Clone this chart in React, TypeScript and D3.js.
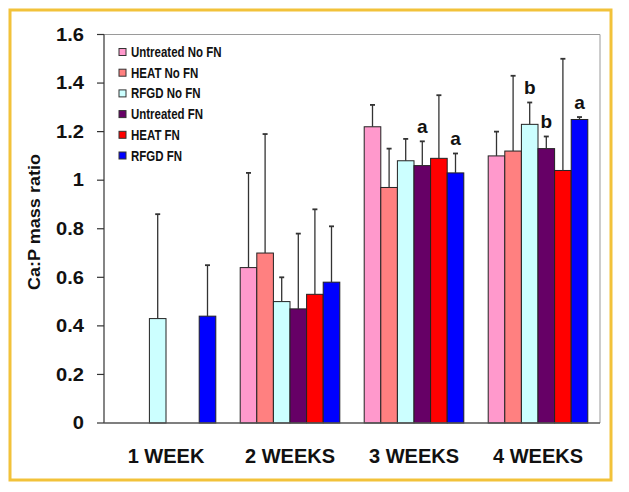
import React from "react";
import * as d3 from "d3";

const categories = ["1 WEEK", "2 WEEKS", "3 WEEKS", "4 WEEKS"];
const seriesNames = ["Untreated No FN", "HEAT No FN", "RFGD No FN", "Untreated FN", "HEAT FN", "RFGD FN"];
const seriesColors = ["#FF99CC", "#FF8080", "#CCFFFF", "#660066", "#FF0000", "#0000FF"];
// values per series, per category (null = no bar)
const untreatedNoFN = [null, 0.64, 1.22, 1.10];
const heatNoFN = [null, 0.70, 0.97, 1.12];
const rfgdNoFN = [0.43, 0.50, 1.08, 1.23];
const untreatedFN = [null, 0.47, 1.06, 1.13];
const heatFN = [null, 0.53, 1.09, 1.04];
const rfgdFN = [0.44, 0.58, 1.03, 1.25];
// upper end of error bars
const untreatedNoFNErr = [null, 1.03, 1.31, 1.20];
const heatNoFNErr = [null, 1.19, 1.13, 1.43];
const rfgdNoFNErr = [0.86, 0.60, 1.17, 1.32];
const untreatedFNErr = [null, 0.78, 1.16, 1.18];
const heatFNErr = [null, 0.88, 1.35, 1.50];
const rfgdFNErr = [0.65, 0.81, 1.11, 1.26];
const yTicks = [0, 0.2, 0.4, 0.6, 0.8, 1, 1.2, 1.4, 1.6];
// significance letters: [category index, series index, letter]
const annotations: [number, number, string][] = [
  [2, 3, "a"],
  [2, 5, "a"],
  [3, 2, "b"],
  [3, 3, "b"],
  [3, 5, "a"],
];

const values = [untreatedNoFN, heatNoFN, rfgdNoFN, untreatedFN, heatFN, rfgdFN];
const errs = [untreatedNoFNErr, heatNoFNErr, rfgdNoFNErr, untreatedFNErr, heatFNErr, rfgdFNErr];

export default function App() {
  const W = 629, H = 492;
  const left = 104, right = 600, top = 34.5, bottom = 423;
  const x0 = d3.scaleBand<string>().domain(categories).range([left, right]).paddingInner(0).paddingOuter(0);
  const groupW = x0.bandwidth();
  const barW = 16.6;
  const inner = barW * 6;
  const x1 = d3.scaleBand<number>().domain(d3.range(6)).range([0, inner]);
  const y = d3.scaleLinear().domain([0, 1.6]).range([bottom, top]);
  const font = "Arial, 'Liberation Sans', sans-serif";

  const barX = (ci: number, si: number) =>
    (x0(categories[ci]) as number) + (groupW - inner) / 2 + (x1(si) as number);

  return (
    <svg width={W} height={H} style={{ position: "absolute", left: 0, top: 0, background: "#fff" }}>
      <rect x={0} y={0} width={W} height={H} fill="#fff" />
      <rect x={10} y={10} width={601} height={470} fill="none" stroke="#F2C23A" strokeWidth={3} />
      {/* plot frame */}
      <line x1={left} x2={right} y1={top} y2={top} stroke="#9a9a9a" strokeWidth={1} />
      <line x1={right} x2={right} y1={top} y2={bottom} stroke="#9a9a9a" strokeWidth={1} />
      {/* bars */}
      {values.map((vals, si) =>
        vals.map((v, ci) =>
          v == null ? null : (
            <rect
              key={`b${si}-${ci}`}
              x={barX(ci, si)}
              y={y(v)}
              width={barW}
              height={bottom - y(v)}
              fill={seriesColors[si]}
              stroke="#222"
              strokeWidth={1}
            />
          )
        )
      )}
      {/* error bars */}
      {errs.map((vals, si) =>
        vals.map((e, ci) => {
          const v = values[si][ci];
          if (e == null || v == null) return null;
          const cx = barX(ci, si) + barW / 2;
          return (
            <g key={`e${si}-${ci}`} stroke="#333" strokeWidth={1.3}>
              <line x1={cx} x2={cx} y1={y(v)} y2={y(e)} />
              <line x1={cx - 2.5} x2={cx + 2.5} y1={y(e)} y2={y(e)} strokeWidth={1.8} />
            </g>
          );
        })
      )}
      {/* annotations */}
      {annotations.map(([ci, si, letter], i) => {
        const e = errs[si][ci] as number;
        return (
          <text
            key={`a${i}`}
            x={barX(ci, si) + barW / 2}
            y={y(e) - 8}
            textAnchor="middle"
            fontFamily={font}
            fontWeight="bold"
            fontSize={19}
            fill="#111"
          >
            {letter}
          </text>
        );
      })}
      {/* axes */}
      <line x1={left} x2={left} y1={top} y2={bottom} stroke="#333" strokeWidth={1.2} />
      <line x1={left} x2={right} y1={bottom} y2={bottom} stroke="#555" strokeWidth={1.4} />
      {yTicks.map((t) => (
        <g key={`t${t}`}>
          <line x1={left - 7} x2={left} y1={y(t)} y2={y(t)} stroke="#333" strokeWidth={1.2} />
          <g transform={`translate(84,${y(t)}) scale(1.15,1)`}>
            <text
              x={0}
              y={0}
              dy="0.36em"
              textAnchor="end"
              fontFamily={font}
              fontWeight="bold"
              fontSize={17.5}
              fill="#111"
            >
              {d3.format("")(t)}
            </text>
          </g>
        </g>
      ))}
      <text
        transform={`translate(40,222) rotate(-90)`}
        textAnchor="middle"
        fontFamily={font}
        fontWeight="bold"
        fontSize={16.5}
        fill="#111"
        textLength={136}
        lengthAdjust="spacingAndGlyphs"
      >
        Ca:P mass ratio
      </text>
      {categories.map((c) => (
        <text
          key={c}
          x={(x0(c) as number) + groupW / 2}
          y={463}
          textAnchor="middle"
          fontFamily={font}
          fontWeight="bold"
          fontSize={20}
          fill="#111"
        >
          {c}
        </text>
      ))}
      {/* legend */}
      {seriesNames.map((n, i) => {
        const cy = 52 + i * 20.7;
        return (
          <g key={n}>
            <rect x={119} y={cy - 3.5} width={7} height={7} fill={seriesColors[i]} stroke="#333" strokeWidth={1} />
            <g transform={`translate(131,${cy}) scale(0.82,1)`}>
              <text x={0} y={0} dy="0.36em" fontFamily={font} fontWeight="bold" fontSize={14} fill="#111">
                {n}
              </text>
            </g>
          </g>
        );
      })}
    </svg>
  );
}
